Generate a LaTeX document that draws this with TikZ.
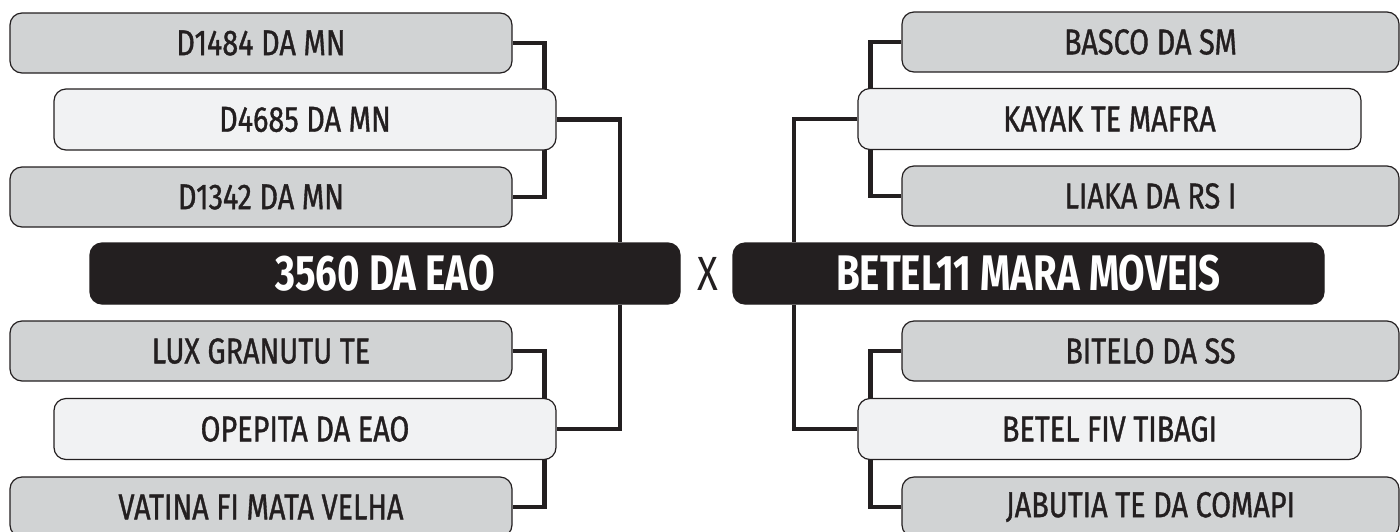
\documentclass[tikz,border=0pt]{standalone}
\usepackage{fontspec}
\setmainfont{Fira Sans}
\newfontfamily\seedfont{Fira Sans}[FakeStretch=0.8,FakeBold=1]
\newfontfamily\finalfont{Fira Sans}[FakeStretch=0.77]
\newfontfamily\vsfont{Fira Sans}[FakeStretch=0.8]
\definecolor{ink}{HTML}{231F20}
\definecolor{seedgray}{HTML}{D1D3D4}
\definecolor{seedlight}{HTML}{F1F2F3}
\pgfdeclarelayer{back}
\pgfsetlayers{back,main}

\begin{document}
\begin{tikzpicture}[x=1pt,y=-1pt,
    team/.style={draw=ink,line width=1.2pt,rounded corners=12pt,text=ink,
      inner sep=0pt,font=\seedfont\fontsize{36}{36}\selectfont},
    outer/.style={team,fill=seedgray,minimum height=60pt},
    inner/.style={team,fill=seedlight,minimum height=61pt},
    final/.style={team,fill=ink,text=white,minimum height=61pt,
      font=\finalfont\fontsize{50}{50}\selectfont\bfseries},
    link/.style={ink,line width=4.4pt}]
      \useasboundingbox (0,0) rectangle (1400,531);

      %%%%%%%%%%%%%%%%%%%%%%%%%%%%%%%%%%%%%%%%%%%%%%%%%%%%%%%%%%%%%%%%%%%%%%%%%%%
      %%%%  Left side
      \node[outer,minimum width=502pt] (dA) at (261,43) {D1484 DA MN};
      \node[inner,minimum width=502pt] (dB) at (305,119.5) {D4685 DA MN};
      \node[outer,minimum width=502pt] (dC) at (261,197) {D1342 DA MN};

      \node[final,minimum width=590pt] (eao) at (385,273.5) {3560 DA EAO};

      \node[outer,minimum width=502pt] (lux) at (261,351) {LUX GRANUTU TE};
      \node[inner,minimum width=502pt] (opep) at (305,429) {OPEPITA DA EAO};
      \node[outer,minimum width=502pt] (vat) at (261,507) {VATINA FI MATA VELHA};

      %%%%%%%%%%%%%%%%%%%%%%%%%%%%%%%%%%%%%%%%%%%%%%%%%%%%%%%%%%%%%%%%%%%%%%%%%%%
      %%%%  Right side
      \node[outer,minimum width=497pt] (basco) at (1150.5,42) {BASCO DA SM};
      \node[inner,minimum width=503pt] (kayak) at (1109.5,119) {KAYAK TE MAFRA};
      \node[outer,minimum width=497pt] (liaka) at (1150.5,196) {LIAKA DA RS I};

      \node[final,minimum width=591pt] (betel) at (1028.5,273.5) {BETEL11 MARA MOVEIS};

      \node[outer,minimum width=497pt] (bitelo) at (1150.5,351) {BITELO DA SS};
      \node[inner,minimum width=503pt] (tibagi) at (1109.5,429) {BETEL FIV TIBAGI};
      \node[outer,minimum width=497pt] (jabu) at (1150.5,507) {JABUTIA TE DA COMAPI};

      \node[text=ink,font=\vsfont\fontsize{48}{48}\selectfont] (vs) at (708,274) {X};

      %%%%%%%%%%%%%%%%%%%%%%%%%%%%%%%%%%%%%%%%%%%%%%%%%%%%%%%%%%%%%%%%%%%%%%%%%%%
      %%%%  Brackets
      \begin{pgfonlayer}{back}
        \draw[link] (dA.east) -- ++(32,0) |- (dC.east);
        \draw[link] (dB.east) -| ([xshift=235pt]eao.north);
        \draw[link] (lux.east) -- ++(32,0) |- (vat.east);
        \draw[link] ([xshift=235pt]eao.south) |- (opep.east);

        \draw[link] (basco.west) -- ++(-31,0) |- (liaka.west);
        \draw[link] (kayak.west) -| ([xshift=-234.5pt]betel.north);
        \draw[link] (bitelo.west) -- ++(-31,0) |- (jabu.west);
        \draw[link] ([xshift=-234.5pt]betel.south) |- (tibagi.west);
      \end{pgfonlayer}
    \end{tikzpicture}
\end{document}
